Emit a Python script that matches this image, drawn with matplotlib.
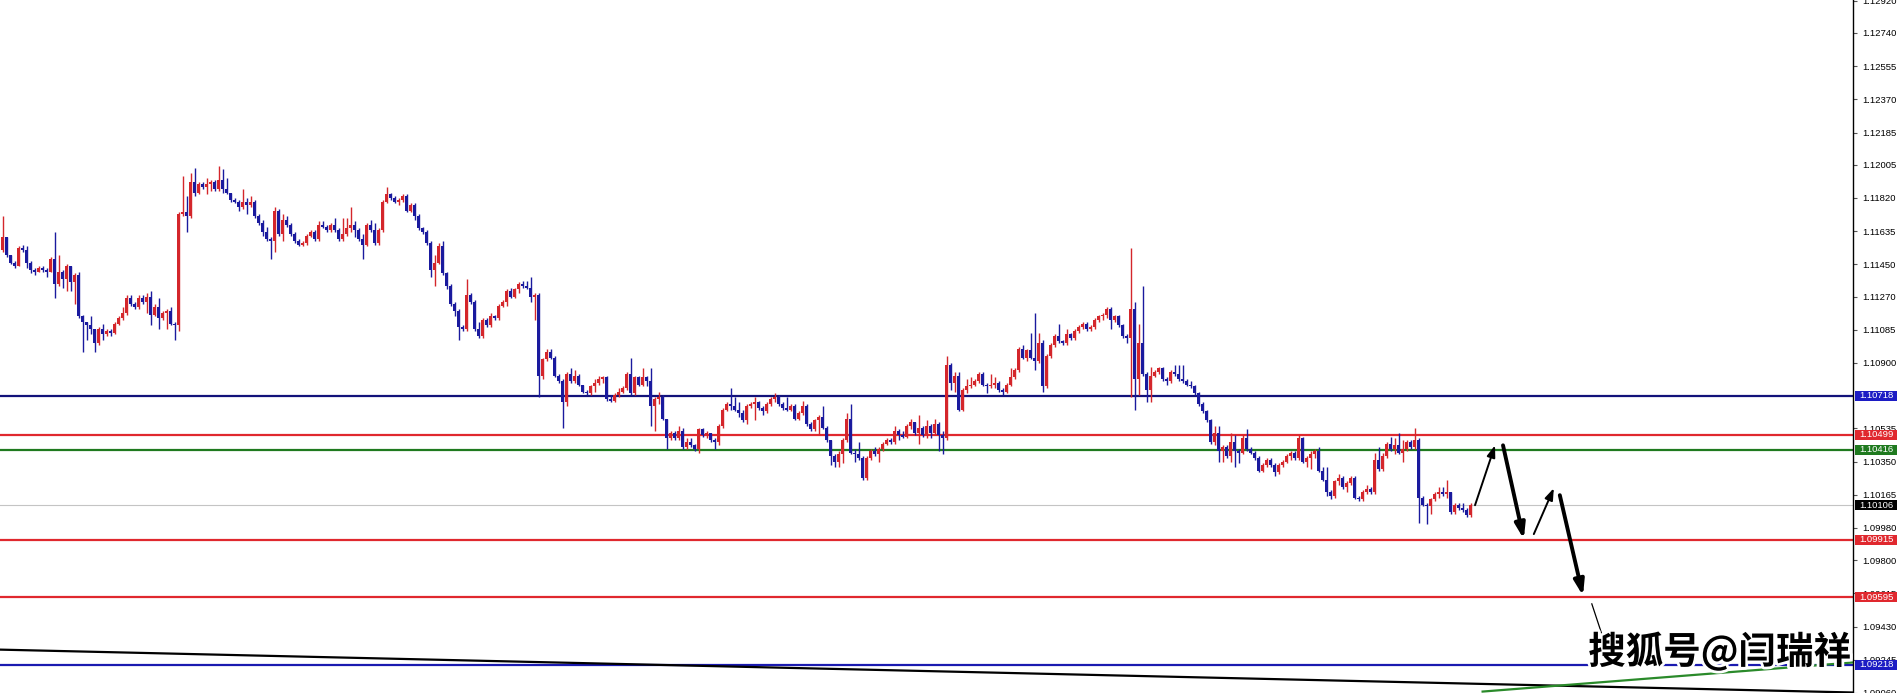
import matplotlib
matplotlib.use("Agg")
import matplotlib.pyplot as plt
import matplotlib.patheffects as pe
from matplotlib.patches import Rectangle
from matplotlib.transforms import blended_transform_factory
import numpy as np

plt.rcParams['font.family'] = ['Liberation Sans', 'DejaVu Sans']

# ---------------- data (EURUSD-like candles) ----------------
first_open = 1.1153

closes = [
    1.1160, 1.1150, 1.1146, 1.1144, 1.1154, 1.1153, 1.1146, 1.1142, 1.1141, 1.1143,
    1.1142, 1.1141, 1.1148, 1.1134, 1.1141, 1.1137, 1.1144, 1.1135, 1.1139, 1.1116,
    1.1113, 1.1111, 1.1109, 1.1101, 1.1109, 1.1106, 1.1108, 1.1107, 1.1112, 1.1115,
    1.1118, 1.1126, 1.1123, 1.1121, 1.1126, 1.1124, 1.1127, 1.1117, 1.1121, 1.1115,
    1.1118, 1.1119, 1.1112, 1.1111, 1.1173, 1.1174, 1.1172, 1.1191, 1.1185, 1.1190,
    1.1188, 1.1190, 1.1191, 1.1187, 1.1192, 1.1187, 1.1185, 1.1181, 1.1180, 1.1177,
    1.1180, 1.1178, 1.1180, 1.1172, 1.1168, 1.1163, 1.1159, 1.1158, 1.1175, 1.1162,
    1.1170, 1.1167, 1.1162, 1.1158, 1.1156, 1.1157, 1.1161, 1.1163, 1.1159, 1.1167,
    1.1166, 1.1164, 1.1167, 1.1164, 1.1159, 1.1162, 1.1165, 1.1167, 1.1164, 1.1159,
    1.1156, 1.1167, 1.1164, 1.1157, 1.1164, 1.1180, 1.1184, 1.1182, 1.1180, 1.1181,
    1.1183, 1.1175, 1.1178, 1.1172, 1.1165, 1.1163, 1.1157, 1.1142, 1.1146, 1.1155,
    1.1140, 1.1133, 1.1123, 1.1119, 1.1110, 1.1109, 1.1128, 1.1124, 1.1109, 1.1105,
    1.1114, 1.1111, 1.1116, 1.1115, 1.1122, 1.1124, 1.1130, 1.1127, 1.1131, 1.1134,
    1.1133, 1.1132, 1.1127, 1.1128, 1.1083, 1.1092, 1.1096, 1.1093, 1.1083, 1.1080,
    1.1068, 1.1084, 1.1080, 1.1083, 1.1078, 1.1074, 1.1073, 1.1077, 1.1079, 1.1081,
    1.1082, 1.1070, 1.1069, 1.1072, 1.1074, 1.1076, 1.1084, 1.1073, 1.1082, 1.1078,
    1.1082, 1.1080, 1.1066, 1.1070, 1.1071, 1.1059, 1.1048, 1.1051, 1.1048, 1.1052,
    1.1043, 1.1046, 1.1044, 1.1042, 1.1053, 1.1050, 1.1051, 1.1047, 1.1046, 1.1055,
    1.1064, 1.1067, 1.1066, 1.1064, 1.1062, 1.1058, 1.1066, 1.1067, 1.1068, 1.1065,
    1.1063, 1.1067, 1.1070, 1.1071, 1.1067, 1.1065, 1.1064, 1.1066, 1.1059, 1.1062,
    1.1066, 1.1056, 1.1053, 1.1058, 1.1060, 1.1054, 1.1047, 1.1038, 1.1035, 1.1039,
    1.1047, 1.1059, 1.1040, 1.1039, 1.1037, 1.1026, 1.1037, 1.1041, 1.1039, 1.1042,
    1.1045, 1.1047, 1.1046, 1.1052, 1.1050, 1.1049, 1.1055, 1.1057, 1.1051, 1.1054,
    1.1050, 1.1055, 1.1051, 1.1056, 1.1050, 1.1048, 1.1089, 1.1079, 1.1083, 1.1064,
    1.1075, 1.1077, 1.1078, 1.1080, 1.1084, 1.1078, 1.1077, 1.1078, 1.1079, 1.1075,
    1.1074, 1.1078, 1.1082, 1.1086, 1.1098, 1.1093, 1.1097, 1.1093, 1.1091, 1.1101,
    1.1077, 1.1094, 1.1100, 1.1105, 1.1102, 1.1101, 1.1106, 1.1104, 1.1108, 1.1110,
    1.1112, 1.1109, 1.1110, 1.1114, 1.1116, 1.1117, 1.1120, 1.1114, 1.1116, 1.1111,
    1.1105, 1.1104, 1.1120, 1.1081, 1.1101, 1.1084, 1.1075, 1.1083, 1.1085, 1.1087,
    1.1081, 1.1080, 1.1085, 1.1084, 1.1081, 1.1080, 1.1078, 1.1077, 1.1073, 1.1067,
    1.1063, 1.1058, 1.1046, 1.1051, 1.1041, 1.1043, 1.1038, 1.1046, 1.1041, 1.1040,
    1.1048, 1.1042, 1.1040, 1.1037, 1.1030, 1.1033, 1.1036, 1.1033, 1.1029, 1.1033,
    1.1035, 1.1038, 1.1040, 1.1037, 1.1048, 1.1035, 1.1037, 1.1039, 1.1041, 1.1030,
    1.1025, 1.1018, 1.1016, 1.1024, 1.1026, 1.1021, 1.1023, 1.1026, 1.1015, 1.1014,
    1.1018, 1.1020, 1.1018, 1.1036, 1.1031, 1.1038, 1.1045, 1.1042, 1.1044, 1.1040,
    1.1042, 1.1046, 1.1043, 1.1047, 1.1015, 1.1011, 1.1010, 1.1014, 1.1017, 1.1018,
    1.1017, 1.1018, 1.1007, 1.1011, 1.1009, 1.1008, 1.1005, 1.10106,
]

highs = [
    1.1172, 1.1160, 1.1150, 1.1147, 1.1155, 1.1156, 1.1155, 1.1147, 1.1143, 1.1144,
    1.1144, 1.1143, 1.1149, 1.1163, 1.1150, 1.1142, 1.1145, 1.1143, 1.1140, 1.1141,
    1.1117, 1.1113, 1.1116, 1.1109, 1.1110, 1.1112, 1.1109, 1.1109, 1.1113, 1.1116,
    1.1121, 1.1128, 1.1128, 1.1124, 1.1128, 1.1128, 1.1129, 1.1130, 1.1123, 1.1126,
    1.1119, 1.1120, 1.1121, 1.1113, 1.1174, 1.1194, 1.1183, 1.1196, 1.1199, 1.1191,
    1.1191, 1.1193, 1.1192, 1.1192, 1.1200, 1.1198, 1.1193, 1.1185, 1.1182, 1.1181,
    1.1187, 1.1182, 1.1183, 1.1181, 1.1173, 1.1170, 1.1166, 1.1160, 1.1177, 1.1176,
    1.1173, 1.1172, 1.1168, 1.1163, 1.1159, 1.1158, 1.1162, 1.1164, 1.1164, 1.1169,
    1.1169, 1.1167, 1.1168, 1.1171, 1.1165, 1.1171, 1.1171, 1.1177, 1.1169, 1.1165,
    1.1162, 1.1168, 1.1170, 1.1168, 1.1165, 1.1181, 1.1188, 1.1185, 1.1183, 1.1182,
    1.1184, 1.1184, 1.1179, 1.1179, 1.1173, 1.1166, 1.1164, 1.1158, 1.1150, 1.1157,
    1.1158, 1.1141, 1.1134, 1.1124, 1.1120, 1.1111, 1.1137, 1.1129, 1.1125, 1.1113,
    1.1115, 1.1115, 1.1118, 1.1117, 1.1123, 1.1125, 1.1131, 1.1132, 1.1132, 1.1135,
    1.1136, 1.1136, 1.1138, 1.1129, 1.1129, 1.1093, 1.1098, 1.1098, 1.1094, 1.1084,
    1.1081, 1.1085, 1.1087, 1.1086, 1.1084, 1.1078, 1.1075, 1.1078, 1.1081, 1.1083,
    1.1083, 1.1083, 1.1072, 1.1073, 1.1076, 1.1077, 1.1085, 1.1093, 1.1083, 1.1083,
    1.1087, 1.1083, 1.1087, 1.1071, 1.1074, 1.1072, 1.1059, 1.1052, 1.1052, 1.1055,
    1.1054, 1.1048, 1.1048, 1.1045, 1.1054, 1.1054, 1.1052, 1.1051, 1.1048, 1.1056,
    1.1065, 1.1068, 1.1076, 1.1071, 1.1068, 1.1064, 1.1067, 1.1068, 1.1071, 1.1069,
    1.1066, 1.1068, 1.1071, 1.1073, 1.1072, 1.1068, 1.1071, 1.1067, 1.1067, 1.1063,
    1.1069, 1.1067, 1.1057, 1.1059, 1.1061, 1.1066, 1.1055, 1.1047, 1.1039, 1.1041,
    1.1048, 1.1062, 1.1067, 1.1042, 1.1046, 1.1038, 1.1038, 1.1042, 1.1043, 1.1043,
    1.1046, 1.1048, 1.1048, 1.1055, 1.1053, 1.1052, 1.1056, 1.1059, 1.1057, 1.1061,
    1.1055, 1.1058, 1.1056, 1.1059, 1.1057, 1.1052, 1.1094, 1.1090, 1.1085, 1.1085,
    1.1076, 1.1081, 1.1082, 1.1081, 1.1085, 1.1085, 1.1079, 1.1084, 1.1082, 1.1080,
    1.1076, 1.1079, 1.1087, 1.1087, 1.1099, 1.1100, 1.1098, 1.1107, 1.1118, 1.1107,
    1.1103, 1.1095, 1.1101, 1.1106, 1.1112, 1.1103, 1.1109, 1.1107, 1.1109, 1.1111,
    1.1113, 1.1113, 1.1111, 1.1115, 1.1117, 1.1118, 1.1121, 1.1121, 1.1117, 1.1117,
    1.1112, 1.1106, 1.1154, 1.1124, 1.1112, 1.1133, 1.1085, 1.1088, 1.1086, 1.1088,
    1.1088, 1.1082, 1.1086, 1.1089, 1.1089, 1.1089, 1.1081, 1.1080, 1.1078, 1.1074,
    1.1068, 1.1064, 1.1059, 1.1055, 1.1055, 1.1044, 1.1044, 1.1051, 1.1050, 1.1042,
    1.1050, 1.1053, 1.1043, 1.1041, 1.1038, 1.1034, 1.1037, 1.1037, 1.1034, 1.1034,
    1.1036, 1.1039, 1.1041, 1.1041, 1.1050, 1.1049, 1.1038, 1.1041, 1.1042, 1.1043,
    1.1032, 1.1032, 1.1019, 1.1025, 1.1028, 1.1027, 1.1024, 1.1027, 1.1027, 1.1016,
    1.1019, 1.1022, 1.1021, 1.1040, 1.1043, 1.1040, 1.1046, 1.1049, 1.1048, 1.1051,
    1.1047, 1.1047, 1.1047, 1.1054, 1.1048, 1.1016, 1.1012, 1.1015, 1.1018, 1.1021,
    1.1021, 1.1025, 1.1018, 1.1012, 1.1012, 1.1012, 1.1009, 1.1012,
]

lows = [
    1.1152, 1.1149, 1.1145, 1.1143, 1.1144, 1.1152, 1.1143, 1.1140, 1.1139, 1.1141,
    1.1141, 1.1138, 1.1141, 1.1126, 1.1133, 1.1132, 1.1130, 1.1130, 1.1123, 1.1115,
    1.1096, 1.1103, 1.1106, 1.1096, 1.1100, 1.1103, 1.1105, 1.1105, 1.1106, 1.1111,
    1.1114, 1.1117, 1.1122, 1.1120, 1.1120, 1.1123, 1.1118, 1.1111, 1.1116, 1.1109,
    1.1114, 1.1109, 1.1111, 1.1103, 1.1108, 1.1172, 1.1163, 1.1171, 1.1183, 1.1184,
    1.1187, 1.1184, 1.1186, 1.1186, 1.1186, 1.1185, 1.1184, 1.1180, 1.1179, 1.1175,
    1.1176, 1.1173, 1.1177, 1.1171, 1.1167, 1.1161, 1.1158, 1.1148, 1.1152, 1.1161,
    1.1158, 1.1166, 1.1161, 1.1157, 1.1155, 1.1155, 1.1156, 1.1160, 1.1158, 1.1158,
    1.1165, 1.1163, 1.1163, 1.1163, 1.1158, 1.1158, 1.1161, 1.1163, 1.1160, 1.1158,
    1.1148, 1.1155, 1.1163, 1.1156, 1.1156, 1.1163, 1.1179, 1.1181, 1.1179, 1.1178,
    1.1180, 1.1174, 1.1174, 1.1170, 1.1164, 1.1162, 1.1156, 1.1138, 1.1133, 1.1145,
    1.1139, 1.1131, 1.1122, 1.1116, 1.1103, 1.1108, 1.1108, 1.1123, 1.1108, 1.1104,
    1.1104, 1.1110, 1.1110, 1.1114, 1.1114, 1.1121, 1.1122, 1.1126, 1.1126, 1.1129,
    1.1132, 1.1131, 1.1124, 1.1114, 1.1071, 1.1081, 1.1091, 1.1092, 1.1082, 1.1079,
    1.1054, 1.1066, 1.1079, 1.1079, 1.1077, 1.1073, 1.1072, 1.1072, 1.1074, 1.1078,
    1.1079, 1.1069, 1.1068, 1.1068, 1.1071, 1.1073, 1.1075, 1.1072, 1.1072, 1.1077,
    1.1077, 1.1077, 1.1055, 1.1052, 1.1067, 1.1058, 1.1042, 1.1047, 1.1047, 1.1047,
    1.1042, 1.1042, 1.1043, 1.1041, 1.1040, 1.1049, 1.1048, 1.1046, 1.1042, 1.1044,
    1.1054, 1.1063, 1.1064, 1.1063, 1.1060, 1.1057, 1.1056, 1.1065, 1.1058, 1.1064,
    1.1061, 1.1062, 1.1066, 1.1068, 1.1066, 1.1064, 1.1063, 1.1063, 1.1058, 1.1058,
    1.1061, 1.1055, 1.1052, 1.1052, 1.1050, 1.1053, 1.1046, 1.1033, 1.1032, 1.1032,
    1.1034, 1.1046, 1.1039, 1.1035, 1.1036, 1.1025, 1.1025, 1.1036, 1.1038, 1.1035,
    1.1041, 1.1044, 1.1045, 1.1045, 1.1047, 1.1048, 1.1048, 1.1053, 1.1050, 1.1045,
    1.1049, 1.1048, 1.1048, 1.1050, 1.1041, 1.1039, 1.1047, 1.1075, 1.1074, 1.1063,
    1.1063, 1.1073, 1.1076, 1.1077, 1.1079, 1.1077, 1.1073, 1.1076, 1.1076, 1.1074,
    1.1072, 1.1073, 1.1077, 1.1081, 1.1085, 1.1092, 1.1091, 1.1092, 1.1086, 1.1090,
    1.1074, 1.1076, 1.1093, 1.1099, 1.1101, 1.1100, 1.1100, 1.1103, 1.1103, 1.1107,
    1.1109, 1.1108, 1.1108, 1.1109, 1.1113, 1.1114, 1.1115, 1.1109, 1.1113, 1.1110,
    1.1104, 1.1101, 1.1071, 1.1064, 1.1072, 1.1083, 1.1068, 1.1068, 1.1082, 1.1084,
    1.1080, 1.1078, 1.1079, 1.1083, 1.1080, 1.1079, 1.1077, 1.1076, 1.1072, 1.1066,
    1.1062, 1.1057, 1.1045, 1.1044, 1.1035, 1.1035, 1.1037, 1.1035, 1.1032, 1.1034,
    1.1039, 1.1041, 1.1039, 1.1036, 1.1029, 1.1029, 1.1032, 1.1032, 1.1027, 1.1028,
    1.1032, 1.1034, 1.1036, 1.1036, 1.1036, 1.1034, 1.1032, 1.1031, 1.1037, 1.1029,
    1.1024, 1.1016, 1.1014, 1.1015, 1.1022, 1.1020, 1.1018, 1.1022, 1.1014, 1.1013,
    1.1013, 1.1017, 1.1017, 1.1017, 1.1030, 1.1030, 1.1037, 1.1041, 1.1039, 1.1039,
    1.1035, 1.1041, 1.1042, 1.1042, 1.1001, 1.1010, 1.1000, 1.1006, 1.1013, 1.1015,
    1.1016, 1.1015, 1.1006, 1.1006, 1.1008, 1.1007, 1.1004, 1.1004,
]

# horizontal levels and their price tags
level_prices = [1.10718, 1.10499, 1.10416, 1.10106, 1.09915, 1.09595, 1.09218]
level_line_colors = ['#12127a', '#e0282e', '#1f7a1f', '#c4c4c4', '#e0282e', '#e0282e', '#1a1ab0']
level_tag_colors = ['#1c1cc4', '#e0282e', '#1f7a1f', '#000000', '#e0282e', '#e0282e', '#1c1cc4']

# right axis tick values (some sit under the price tags, as in the original)
tick_values = [1.12920, 1.12740, 1.12555, 1.12370, 1.12185, 1.12005, 1.11820, 1.11635,
               1.11450, 1.11270, 1.11085, 1.10900, 1.10535, 1.10350, 1.10165,
               1.09980, 1.09800, 1.09615, 1.09430, 1.09245, 1.09060]

# hand-drawn projection arrows: (x_start, price_start, x_end, price_end), in bar index / price
thin_arrows = [(368.1, 1.10107, 373.1, 1.10441), (382.8, 1.09946, 387.8, 1.10202)]
thick_arrows = [(375.1, 1.10441, 380.3, 1.09918), (389.3, 1.10163, 395.1, 1.09602)]
thin_tail = [(397.3, 1.09557), (400.1, 1.09368)]

# trend lines at the bottom
black_trend = [(-1.0, 1.09302), (470.0, 1.09059)]
green_trend = [(370.0, 1.09068), (463.0, 1.09231)]

watermark = "搜狐号@闫瑞祥"

# ---------------- figure ----------------
W, H = 1899, 693
fig = plt.figure(figsize=(W / 100, H / 100), dpi=100)
fig.patch.set_facecolor('white')
ax = fig.add_axes([0, 0, 1853 / W, 1])
ax.set_facecolor('white')

ymin, ymax = 1.09074, 1.12924
ax.set_ylim(ymin, ymax)
ax.set_xlim(-0.675, 462.6)

n = min(len(closes), len(highs), len(lows))
c = np.array(closes[:n])
o = np.array([first_open] + closes[:n - 1])
h = np.maximum(np.array(highs[:n]), np.maximum(o, c))
l = np.minimum(np.array(lows[:n]), np.minimum(o, c))
x = np.arange(n)

RED = '#d4262b'
BLUE = '#1a1a9e'
cols = np.where(c > o, RED, BLUE)

# levels (under candles)
for p, col in zip(level_prices, level_line_colors):
    lw = 0.8 if col == '#c4c4c4' else 1.6
    ax.axhline(p, color=col, lw=lw, zorder=1)

ax.vlines(x, l, h, colors=cols, linewidth=1.0, zorder=3)
px = (ymax - ymin) / H
body = np.maximum(np.abs(c - o), px * 1.3)
ax.bar(x, body, bottom=np.minimum(o, c), width=0.78, color=cols, linewidth=0, zorder=4)

# trend lines
ax.plot([p[0] for p in black_trend], [p[1] for p in black_trend], color='black', lw=1.6, zorder=2)
ax.plot([p[0] for p in green_trend], [p[1] for p in green_trend], color='#2a8a2a', lw=1.6, zorder=2)

# arrows
for xs, ys, xe, ye in thin_arrows:
    ax.annotate('', xy=(xe, ye), xytext=(xs, ys),
                arrowprops=dict(arrowstyle='-|>,head_length=0.7,head_width=0.25',
                                color='black', lw=1.4, shrinkA=0, shrinkB=0), zorder=6)
for xs, ys, xe, ye in thick_arrows:
    ax.annotate('', xy=(xe, ye), xytext=(xs, ys),
                arrowprops=dict(arrowstyle='-|>,head_length=0.9,head_width=0.3',
                                color='black', lw=2.8, shrinkA=0, shrinkB=0), zorder=6)
ax.plot([p[0] for p in thin_tail], [p[1] for p in thin_tail], color='black', lw=0.9, zorder=6)

# axes styling (MT4-like right price scale)
for s in ['left', 'top', 'bottom']:
    ax.spines[s].set_visible(False)
ax.spines['right'].set_color('black')
ax.spines['right'].set_linewidth(1.0)
ax.set_xticks([])
ax.yaxis.tick_right()
ax.set_yticks(tick_values)
ax.set_yticklabels([f"{v:.5f}" for v in tick_values])
ax.tick_params(axis='y', direction='out', length=3, width=0.8, color='#555555',
               labelsize=6.8, pad=4, labelcolor='black')

# price tags
trans = blended_transform_factory(ax.transAxes, ax.transData)
ax_w = 1853.0
for p, col in zip(level_prices, level_tag_colors):
    ax.add_patch(Rectangle((1855 / ax_w, p - 5.0 * px), 42 / ax_w, 10.0 * px,
                           transform=trans, facecolor=col, edgecolor='none',
                           clip_on=False, zorder=10))
    ax.text(1859 / ax_w, p, f"{p:.5f}", transform=trans, color='white',
            fontsize=6.8, va='center', ha='left', clip_on=False, zorder=11)

# watermark
fig.text(1851 / W, 1 - 652 / H, watermark, ha='right', va='center',
         fontsize=27, color='black', weight='bold',
         family=['Noto Sans CJK SC', 'DejaVu Sans'],
         path_effects=[pe.withStroke(linewidth=4, foreground='white')], zorder=20)

fig.savefig('out.png', dpi=100, facecolor='white')
